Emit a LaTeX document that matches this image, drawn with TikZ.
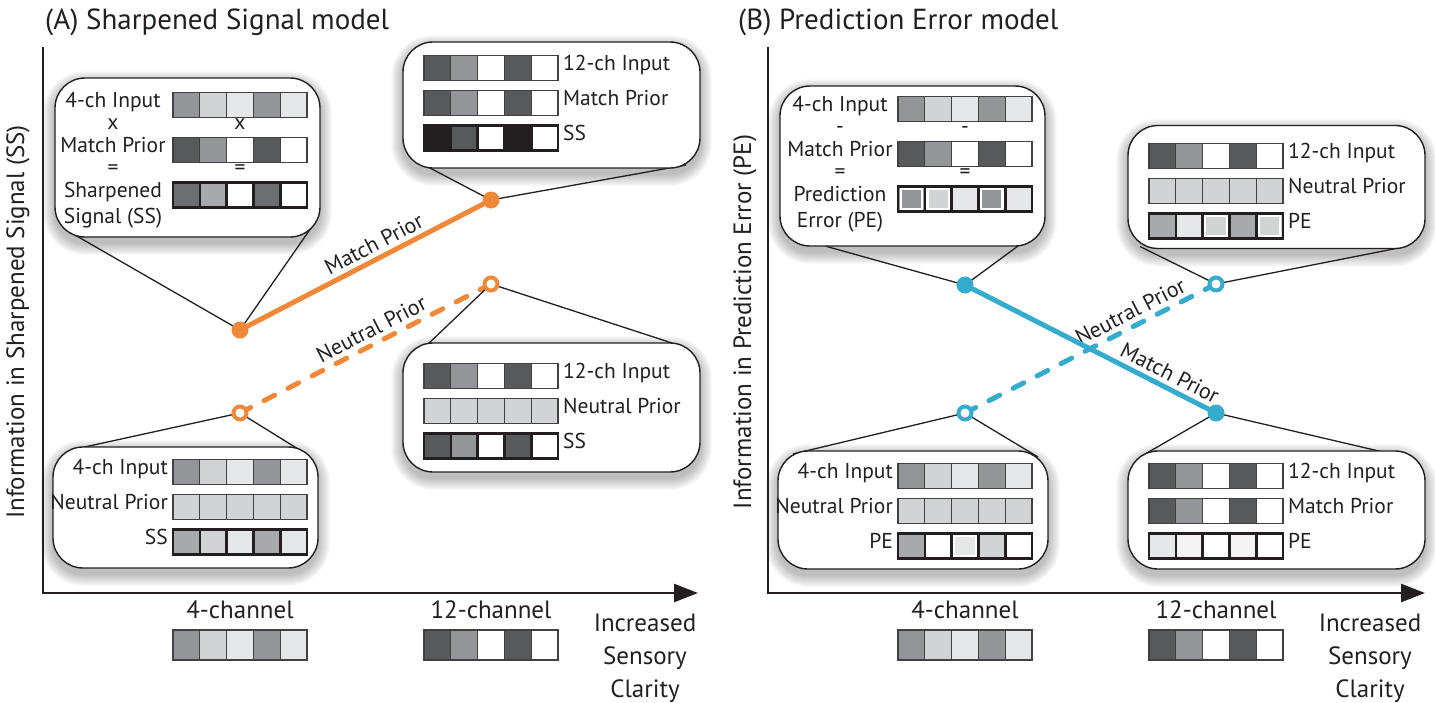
\documentclass[tikz,border=0pt]{standalone}
\usepackage{fontspec}
\setmainfont{PT Sans}
\usetikzlibrary{arrows.meta}
\pgfdeclarelayer{shadowlayer}
\pgfdeclarelayer{linelayer}
\pgfsetlayers{shadowlayer,linelayer,main}
\definecolor{ink}{HTML}{231F20}
\definecolor{cellgray}{HTML}{414042}
\definecolor{gA}{HTML}{939598}
\definecolor{gB}{HTML}{D1D3D4}
\definecolor{gC}{HTML}{E6E7E8}
\definecolor{gD}{HTML}{58595B}
\definecolor{gE}{HTML}{6D6E71}
\definecolor{gF}{HTML}{A7A9AC}
\definecolor{gW}{HTML}{F3F3F4}
\definecolor{orangeL}{HTML}{F0883A}
\definecolor{blueL}{HTML}{35ABCE}
% row of five cells: left x, centre y, colours, style, cell height
\newcommand{\cellrow}[5]{%
  \foreach \c [count=\i from 0] in {#3}{%
    \filldraw[#4, fill=\c] ({#1+\i*26.8},{#2-#5/2}) rectangle ++(26.8,#5);
  }}
% white inner frame in cell number #3 (from 0)
\newcommand{\peframe}[3]{%
  \draw[white, line width=2.3pt] ({#1+#3*26.8+2.7},{#2-12.5+2.7}) rectangle ++(21.4,19.6);}
\newcommand{\softshadow}[1]{%
  \begin{pgfonlayer}{shadowlayer}
  \foreach \k in {1,...,12}{%
    \pgfmathsetmacro\rr{30+\k}
    \fill[black, opacity=0.022, rounded corners=\rr pt]
      ([xshift=-\k pt, yshift={-\k pt-6pt}]#1.south west) rectangle
      ([xshift=\k pt, yshift={\k pt-5pt}]#1.north east);
  }
  \end{pgfonlayer}}
\begin{document}
\begin{tikzpicture}[x=1pt,y=-1pt,
  callout/.style={draw=ink, line width=1.4pt, fill=white, rounded corners=30pt, inner sep=0pt, outer sep=0pt},
  lbl/.style={font=\fontsize{21.5}{24}\selectfont, text=ink, inner sep=0pt, text height=1.45ex, text depth=0.3ex},
  axlbl/.style={font=\fontsize{25}{33}\selectfont, text=ink, inner sep=0pt},
  ttl/.style={font=\fontsize{29}{34}\selectfont, text=ink, inner sep=0pt, anchor=west},
  ylbl/.style={font=\fontsize{25}{28}\selectfont, text=ink, inner sep=0pt, rotate=90},
  linelbl/.style={font=\fontsize{22}{26}\selectfont, text=ink, inner sep=0pt, sloped, above=3pt, text height=1.45ex, text depth=0.3ex},
  thin/.style={draw=cellgray, line width=1.3pt},
  thick/.style={draw=ink, line width=2.6pt},
  axis/.style={draw=ink, line width=2.5pt, -{Triangle[length=24pt, width=18pt]}},
  tail/.style={draw=ink, line width=1.3pt},
  solidO/.style={draw=orangeL, line width=5pt},
  dashO/.style={draw=orangeL, line width=5pt, dash pattern=on 12pt off 15pt, line cap=round},
  solidB/.style={draw=blueL, line width=5pt},
  dashB/.style={draw=blueL, line width=5pt, dash pattern=on 12pt off 15pt, line cap=round},
  fdot/.style={circle, fill=#1, inner sep=0pt, minimum size=17pt},
  odot/.style={circle, draw=#1, fill=white, line width=4pt, inner sep=0pt, minimum size=13pt}
]
\useasboundingbox (0,0) rectangle (1435,702);

% ================= PANEL A =================
\node[ttl] (titleA) at (45,22) {(A) Sharpened Signal model};
\node[ylbl] (ylabA) at (18,322) {Information in Sharpened Signal (SS)};
\coordinate (Atop) at (43,47);
\coordinate (Aorig) at (43,593);
\coordinate (Aend) at (698,593);
\draw[axis] (Atop) -- (Aorig) -- (Aend);

% callout boxes
\node[callout, minimum width=265pt, minimum height=159pt] (A1) at (187.5,157.5) {};
\node[callout, minimum width=297pt, minimum height=126pt] (A2) at (551.5,105) {};
\node[callout, minimum width=297pt, minimum height=129pt] (A3) at (551.5,407.5) {};
\node[callout, minimum width=265pt, minimum height=121pt] (A4) at (185.5,507.5) {};
\softshadow{A1}\softshadow{A2}\softshadow{A3}\softshadow{A4}

% data points
\node[fdot=orangeL] (am1) at (240,330) {};
\node[fdot=orangeL] (am2) at (491,200) {};
\node[odot=orangeL] (an1) at (240,413) {};
\node[odot=orangeL] (an2) at (491,284) {};

\begin{pgfonlayer}{linelayer}
\draw[solidO] (am1.center) -- node[linelbl, pos=0.56] (lAM) {Match Prior} (am2.center);
\draw[dashO] (an1.center) -- node[linelbl, pos=0.55] (lAN) {Neutral Prior} (an2.center);
\draw[tail] ([xshift=20pt, yshift=2pt]A1.south west) -- (am1.center) -- ([xshift=-9pt, yshift=9pt]A1.south east);
\draw[tail] ([xshift=25pt, yshift=1pt]A2.south west) -- (am2.center) -- ([xshift=-14pt, yshift=3pt]A2.south east);
\draw[tail] ([xshift=24pt, yshift=-2pt]A3.north west) -- (an2.center) -- ([xshift=-28pt]A3.north east);
\draw[tail] ([xshift=27pt, yshift=-1pt]A4.north west) -- (an1.center) -- ([xshift=-15pt, yshift=-5pt]A4.north east);
\end{pgfonlayer}

% A1 contents
\cellrow{173}{105}{gA,gB,gC,gA,gC}{thin}{25}
\cellrow{173}{150}{gD,gA,white,gD,white}{thin}{25}
\cellrow{173}{195}{gE,gF,white,gE,white}{thick}{25}
\node[lbl] (A1a) at (113,105) {4-ch Input};
\node[lbl] (A1b) at (113,127) {x};
\node[lbl] (A1c) at (240,127) {x};
\node[lbl] (A1d) at (113,150) {Match Prior};
\node[lbl] (A1e) at (113,172) {=};
\node[lbl] (A1f) at (240,172) {=};
\node[lbl] (A1g) at (113,195) {Sharpened};
\node[lbl] (A1h) at (113,221) {Signal (SS)};

% A2 contents
\cellrow{424}{68}{gD,gA,white,gD,white}{thin}{25}
\cellrow{424}{103}{gD,gA,white,gD,white}{thin}{25}
\cellrow{424}{138}{ink,gD,white,ink,white}{thick}{25}
\node[lbl, anchor=west] (A2a) at (563,68) {12-ch Input};
\node[lbl, anchor=west] (A2b) at (563,103) {Match Prior};
\node[lbl, anchor=west] (A2c) at (563,138) {SS};

% A3 contents
\cellrow{424}{376}{gD,gA,white,gD,white}{thin}{25}
\cellrow{424}{411}{gB,gB,gB,gB,gB}{thin}{25}
\cellrow{424}{446}{gD,gA,white,gD,white}{thick}{25}
\node[lbl, anchor=west] (A3a) at (563,376) {12-ch Input};
\node[lbl, anchor=west] (A3b) at (563,411) {Neutral Prior};
\node[lbl, anchor=west] (A3c) at (563,446) {SS};

% A4 contents
\cellrow{173}{472}{gA,gB,gC,gA,gC}{thin}{25}
\cellrow{173}{507}{gB,gB,gB,gB,gB}{thin}{25}
\cellrow{173}{542}{gF,gB,gC,gF,gC}{thick}{25}
\node[lbl, anchor=east] (A4a) at (168,472) {4-ch Input};
\node[lbl, anchor=east] (A4b) at (168,507) {Neutral Prior};
\node[lbl, anchor=east] (A4c) at (168,542) {SS};

% x-axis categories
\node[axlbl] (A4ch) at (240,610) {4-channel};
\node[axlbl] (A12ch) at (491,610) {12-channel};
\cellrow{173}{645}{gA,gB,gC,gA,gC}{thin}{30}
\cellrow{424}{645}{gD,gA,white,gD,white}{thin}{30}
\node[axlbl, align=center] (Aclar) at (645,658) {Increased\\Sensory\\Clarity};

% ================= PANEL B =================
\node[ttl] (titleB) at (738,22) {(B) Prediction Error model};
\node[ylbl] (ylabB) at (745,322) {Information in Prediction Error (PE)};
\coordinate (Btop) at (768,47);
\coordinate (Borig) at (768,593);
\coordinate (Bend) at (1425,593);
\draw[axis] (Btop) -- (Borig) -- (Bend);

\node[callout, minimum width=265pt, minimum height=160pt] (B1) at (912.5,166) {};
\node[callout, minimum width=297pt, minimum height=123pt] (B2) at (1276.5,187) {};
\node[callout, minimum width=270pt, minimum height=118pt] (B3) at (913,510) {};
\node[callout, minimum width=297pt, minimum height=118pt] (B4) at (1276.5,510) {};
\softshadow{B1}\softshadow{B2}\softshadow{B3}\softshadow{B4}

\node[fdot=blueL] (bm1) at (965,285) {};
\node[fdot=blueL] (bm2) at (1216,413) {};
\node[odot=blueL] (bn1) at (965,413) {};
\node[odot=blueL] (bn2) at (1216,284) {};

\begin{pgfonlayer}{linelayer}
\draw[dashB] (bn1.center) -- node[linelbl, pos=0.685] (lBN) {Neutral Prior} (bn2.center);
\draw[solidB] (bm1.center) -- node[linelbl, pos=0.79] (lBM) {Match Prior} (bm2.center);
\draw[tail] ([xshift=45pt]B1.south west) -- (bm1.center) -- ([xshift=-27pt]B1.south east);
\draw[tail] ([xshift=12pt, yshift=2pt]B2.south west) -- (bn2.center) -- ([xshift=-24pt, yshift=1pt]B2.south east);
\draw[tail] ([xshift=15pt, yshift=-3pt]B3.north west) -- (bn1.center) -- ([xshift=-10pt, yshift=-6pt]B3.north east);
\draw[tail] ([xshift=12pt, yshift=-6pt]B4.north west) -- (bm2.center) -- ([xshift=-42pt, yshift=-1pt]B4.north east);
\end{pgfonlayer}

% B1 contents
\cellrow{898}{109}{gA,gB,gC,gA,gC}{thin}{25}
\cellrow{898}{154}{gD,gA,white,gD,white}{thin}{25}
\cellrow{898}{199}{gA,gB,gC,gA,gC}{thick}{25}
\peframe{898}{199}{0}\peframe{898}{199}{1}\peframe{898}{199}{3}
\node[lbl] (B1a) at (840,109) {4-ch Input};
\node[lbl] (B1b) at (840,131) {-};
\node[lbl] (B1c) at (965,131) {-};
\node[lbl] (B1d) at (840,154) {Match Prior};
\node[lbl] (B1e) at (840,176) {=};
\node[lbl] (B1f) at (965,176) {=};
\node[lbl] (B1g) at (840,199) {Prediction};
\node[lbl] (B1h) at (840,225) {Error (PE)};

% B2 contents
\cellrow{1149}{156}{gD,gA,white,gD,white}{thin}{25}
\cellrow{1149}{191}{gB,gB,gB,gB,gB}{thin}{25}
\cellrow{1149}{226}{gF,gC,gB,gF,gB}{thick}{25}
\peframe{1149}{226}{2}\peframe{1149}{226}{4}
\node[lbl, anchor=west] (B2a) at (1288,156) {12-ch Input};
\node[lbl, anchor=west] (B2b) at (1288,191) {Neutral Prior};
\node[lbl, anchor=west] (B2c) at (1288,226) {PE};

% B3 contents
\cellrow{898}{476}{gA,gB,gC,gA,gC}{thin}{25}
\cellrow{898}{511}{gB,gB,gB,gB,gB}{thin}{25}
\cellrow{898}{546}{gF,white,gC,gB,white}{thick}{25}
\peframe{898}{546}{2}
\node[lbl, anchor=east] (B3a) at (893,476) {4-ch Input};
\node[lbl, anchor=east] (B3b) at (893,511) {Neutral Prior};
\node[lbl, anchor=east] (B3c) at (893,546) {PE};

% B4 contents
\cellrow{1149}{476}{gD,gA,white,gD,white}{thin}{25}
\cellrow{1149}{511}{gD,gA,white,gD,white}{thin}{25}
\cellrow{1149}{546}{gC,gW,white,gW,white}{thick}{25}
\node[lbl, anchor=west] (B4a) at (1288,476) {12-ch Input};
\node[lbl, anchor=west] (B4b) at (1288,511) {Match Prior};
\node[lbl, anchor=west] (B4c) at (1288,546) {PE};

\node[axlbl] (B4ch) at (965,610) {4-channel};
\node[axlbl] (B12ch) at (1216,610) {12-channel};
\cellrow{898}{645}{gA,gB,gC,gA,gC}{thin}{30}
\cellrow{1149}{645}{gD,gA,white,gD,white}{thin}{30}
\node[axlbl, align=center] (Bclar) at (1370,658) {Increased\\Sensory\\Clarity};
\end{tikzpicture}
\end{document}
